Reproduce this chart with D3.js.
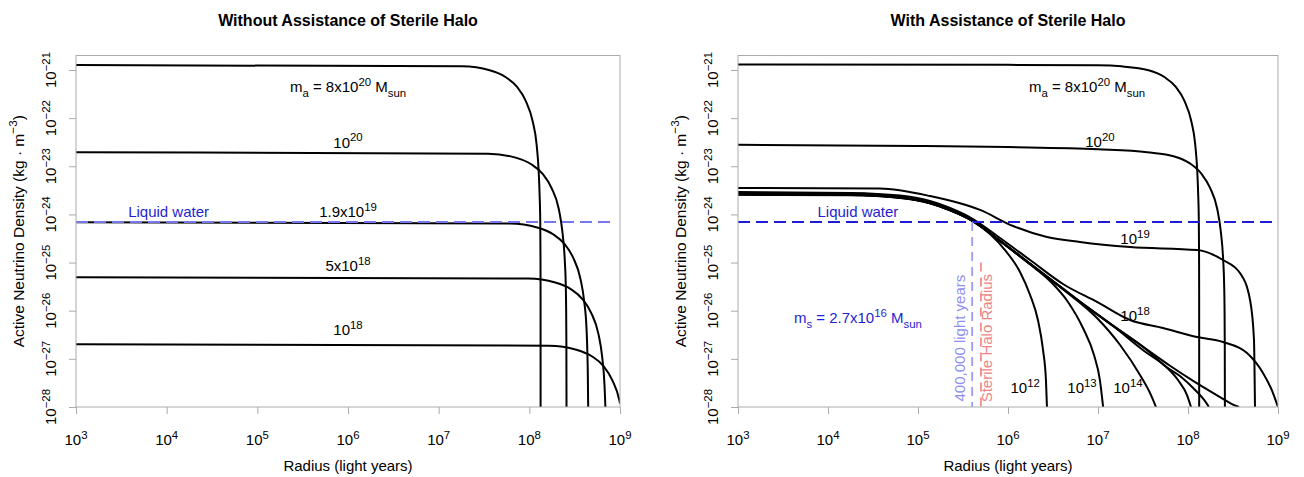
<!DOCTYPE html>
<html><head><meta charset="utf-8">
<script src="https://cdn.jsdelivr.net/npm/d3@7"></script>
<style>body{margin:0;background:#fff;} text{font-family:"Liberation Sans",Arial,Helvetica,sans-serif;fill:#000;}</style>
</head><body><svg id="c" width="1304" height="477"></svg>
<script>
// ---------- data ----------
const xTicks = [1e3, 1e4, 1e5, 1e6, 1e7, 1e8, 1e9];
const xTickExp = ["3", "4", "5", "6", "7", "8", "9"];
const yTicks = [1e-28, 1e-27, 1e-26, 1e-25, 1e-24, 1e-23, 1e-22, 1e-21];
const yTickExp = ["−28", "−27", "−26", "−25", "−24", "−23", "−22", "−21"];
const liquidWater = 7e-25;
const lightYears400k = 4e5;
const sterileHaloRadius = 5e5;
const sterileMarkerTop = 1e-25;

// Left panel: without sterile halo  [radius (ly), density (kg/m^3)]
const left8e20 = [[1e3,1.27e-21],[1.82e7,1.19e-21],[3.65e7,9.86e-22],[5.46e7,7.14e-22],[7.28e7,4.50e-22],[9.10e7,2.30e-22],[1.09e8,8.51e-23],[1.20e8,2.96e-23],[1.27e8,7.31e-24],[1.30e8,2.37e-24],[1.318e8,8.2e-25],[1.327e8,1.34e-25],[1.330e8,2.6e-26],[1.331e8,8.2e-28],[1.3312e8,1e-28]];
const left1e20 = [[1e3,1.95e-23],[3.52e7,1.83e-23],[7.05e7,1.51e-23],[1.05e8,1.10e-23],[1.41e8,6.90e-24],[1.76e8,3.53e-24],[2.11e8,1.31e-24],[2.31e8,4.54e-25],[2.46e8,1.12e-25],[2.52e8,3.64e-26],[2.545e8,1.26e-26],[2.562e8,2.05e-27],[2.569e8,1.41e-28],[2.5705e8,1e-28]];
const left19e18 = [[1e3,6.9e-25],[6.12e7,6.49e-25],[1.22e8,5.36e-25],[1.83e8,3.88e-25],[2.44e8,2.44e-25],[3.05e8,1.25e-25],[3.66e8,4.62e-26],[4.02e8,1.61e-26],[4.28e8,3.97e-27],[4.37e8,1.29e-27],[4.42e8,4.46e-28],[4.444e8,1.58e-28],[4.46e8,1e-28]];
const left5e18 = [[1e3,4.94e-26],[9.66e7,4.65e-26],[1.93e8,3.84e-26],[2.89e8,2.78e-26],[3.85e8,1.75e-26],[4.82e8,8.95e-27],[5.78e8,3.31e-27],[6.34e8,1.15e-27],[6.75e8,2.84e-28],[6.9e8,1e-28]];
const left1e18 = [[1e3,2.0e-27],[1.65e8,1.88e-27],[3.30e8,1.55e-27],[4.93e8,1.12e-27],[6.58e8,7.08e-28],[8.22e8,3.62e-28],[9.87e8,1.34e-28],[1.0e9,1.18e-28]];

// Right panel: with sterile halo
const right8e20 = [[1e3,1.30e-21],[1e6,1.28e-21],[1e7,1.25e-21],[1.82e7,1.19e-21],[3.65e7,9.86e-22],[5.46e7,7.14e-22],[7.28e7,4.50e-22],[9.10e7,2.30e-22],[1.09e8,8.51e-23],[1.20e8,2.96e-23],[1.27e8,7.31e-24],[1.30e8,2.37e-24],[1.318e8,8.2e-25],[1.327e8,1.34e-25],[1.330e8,2.6e-26],[1.331e8,8.2e-28],[1.3312e8,1e-28]];
const right1e20 = [[1e3,2.8e-23],[1e5,2.65e-23],[1e6,2.5e-23],[1e7,2.25e-23],[3.52e7,1.95e-23],[7.05e7,1.6e-23],[1.05e8,1.15e-23],[1.41e8,7.0e-24],[1.76e8,3.55e-24],[2.11e8,1.31e-24],[2.31e8,4.54e-25],[2.46e8,1.12e-25],[2.52e8,3.64e-26],[2.545e8,1.26e-26],[2.562e8,2.05e-27],[2.569e8,1.41e-28],[2.5705e8,1e-28]];
const right1e19 = [[1e3,3.54e-24],[3.78e4,3.45e-24],[1.36e5,2.41e-24],[4.89e5,1.24e-24],[1.14e6,5.74e-25],[2.71e6,3.40e-25],[6.31e6,2.67e-25],[2.27e7,2.10e-25],[1.26e8,1.82e-25],[2.45e8,1.13e-25],[3.78e8,6.07e-26],[4.89e8,1.67e-26],[5.41e8,2.46e-27],[5.5e8,4e-28],[5.55e8,1e-28]];
const right1e18 = [[1e3,2.92e-24],[1.756e4,2.79e-24],[6.31e4,2.47e-24],[1.36e5,1.90e-24],[2.27e5,1.36e-24],[4.08e5,8.03e-25],[8.15e5,3.24e-25],[1.76e6,1.13e-25],[4.08e6,3.59e-26],[9.75e6,1.52e-26],[2.27e7,6.41e-27],[5.27e7,4.37e-27],[1.26e8,2.84e-27],[2.45e8,2.24e-27],[4.53e8,1.32e-27],[6.81e8,5.08e-28],[8.80e8,1.95e-28],[1e9,1e-28]];
const right1e17 = [[1e3,2.80e-24],[1.756e4,2.72e-24],[6.31e4,2.30e-24],[1.36e5,1.75e-24],[2.27e5,1.25e-24],[4.08e5,7.35e-25],[8.15e5,2.85e-25],[1.76e6,9.5e-26],[4.08e6,2.88e-26],[6.31e6,1.55e-26],[1.47e7,4.9e-27],[3.50e7,1.56e-27],[6.31e7,7.2e-28],[1.14e8,3.5e-28],[2.27e8,1.61e-28],[3.08e8,1.15e-28],[3.69e8,1e-28]];
const right1e16 = [[1e3,2.74e-24],[1.756e4,2.66e-24],[6.31e4,2.28e-24],[1.36e5,1.74e-24],[2.27e5,1.24e-24],[4.08e5,7.32e-25],[8.15e5,2.83e-25],[1.76e6,9.4e-26],[4.08e6,2.84e-26],[6.31e6,1.53e-26],[1.47e7,4.84e-27],[3.50e7,1.53e-27],[5.55e7,7.10e-28],[8.15e7,4.40e-28],[1.20e8,2.25e-28],[1.51e8,1.40e-28],[1.71e8,1e-28]];
const right1e15 = [[1e3,2.68e-24],[1.756e4,2.60e-24],[6.31e4,2.26e-24],[1.36e5,1.73e-24],[2.27e5,1.24e-24],[4.08e5,7.30e-25],[8.15e5,2.81e-25],[1.76e6,9.33e-26],[4.08e6,2.82e-26],[6.31e6,1.52e-26],[1.47e7,4.81e-27],[3.50e7,1.32e-27],[5.27e7,7.82e-28],[7.74e7,3.63e-28],[9.75e7,1.77e-28],[1.08e8,1e-28]];
const right1e14 = [[1e3,2.63e-24],[1.756e4,2.57e-24],[6.31e4,2.24e-24],[1.36e5,1.72e-24],[2.27e5,1.23e-24],[4.08e5,7.28e-25],[8.15e5,2.80e-25],[1.76e6,9.3e-26],[4.08e6,2.80e-26],[9.75e6,7.05e-27],[1.76e7,1.94e-27],[2.93e7,4.62e-28],[3.88e7,1.77e-28],[4.41e7,1e-28]];
const right1e13 = [[1e3,2.59e-24],[1.756e4,2.54e-24],[6.31e4,2.22e-24],[1.36e5,1.71e-24],[2.27e5,1.22e-24],[4.08e5,7.25e-25],[8.15e5,2.79e-25],[1.76e6,9.2e-26],[2.93e6,4.14e-26],[4.64e6,1.52e-26],[6.81e6,4.37e-27],[9.03e6,1.20e-27],[1.05e7,3.63e-28],[1.14e7,1e-28]];
const right1e12 = [[1e3,2.55e-24],[1.756e4,2.50e-24],[6.31e4,2.20e-24],[1.36e5,1.70e-24],[2.27e5,1.21e-24],[4.08e5,7.2e-25],[6.31e5,3.92e-25],[9.27e5,1.82e-25],[1.36e6,6.37e-26],[1.76e6,2.12e-26],[2.15e6,6.41e-27],[2.45e6,1.53e-27],[2.64e6,3.63e-28],[2.71e6,1e-28]];

// ---------- layout ----------
const yTop = 55.5, yBot = 407;
const FS = 15;
const panels = [
  {x0: 76, x1: 620, title: "Without Assistance of Sterile Halo",
   curves: [left8e20, left1e20, left19e18, left5e18, left1e18], lwColor: "#7676ee", sterile: false},
  {x0: 738, x1: 1278, title: "With Assistance of Sterile Halo",
   curves: [right8e20, right1e20, right1e19, right1e18, right1e17, right1e16, right1e15, right1e14, right1e13, right1e12], lwColor: "#1c1cd6", sterile: true}
];

const svg = d3.select("#c");

function rich(g, x, y, parts, size, opts = {}) {
  const t = g.append("text").attr("x", x).attr("y", y).attr("font-size", size)
    .attr("text-anchor", opts.anchor || "middle");
  if (opts.fill) t.style("fill", opts.fill);
  if (opts.rotate) t.attr("transform", `rotate(-90,${x},${y})`);
  if (opts.weight) t.attr("font-weight", opts.weight);
  let cur = 0;
  parts.forEach(([s, k]) => {
    const target = k === "sup" ? -0.42 * size : k === "sub" ? 0.3 * size : 0;
    t.append("tspan").attr("dy", target - cur).attr("font-size", k ? size * 0.76 : size).text(s);
    cur = target;
  });
  return t;
}

panels.forEach((p, i) => {
  const x = d3.scaleLog().domain([1e3, 1e9]).range([p.x0, p.x1]);
  const y = d3.scaleLog().domain([1e-28, 2e-21]).range([yBot, yTop]);
  const g = svg.append("g");
  const cid = "clip" + i;
  svg.append("defs").append("clipPath").attr("id", cid)
    .append("rect").attr("x", p.x0).attr("y", yTop).attr("width", p.x1 - p.x0).attr("height", yBot - yTop);
  const plot = g.append("g").attr("clip-path", `url(#${cid})`);

  const line = d3.line().x(d => x(d[0])).y(d => y(d[1])).curve(d3.curveMonotoneX);
  plot.selectAll("path.curve").data(p.curves).join("path").attr("class", "curve")
    .attr("d", line).attr("fill", "none").attr("stroke", "#000").attr("stroke-width", 2)
    .attr("stroke-linejoin", "round");

  // liquid water line
  plot.append("line").attr("x1", p.x0).attr("x2", p.x1 - 4).attr("y1", y(liquidWater)).attr("y2", y(liquidWater))
    .attr("stroke", p.lwColor).attr("stroke-width", 2).attr("stroke-dasharray", "12,6");

  if (p.sterile) {
    plot.append("line").attr("x1", x(lightYears400k)).attr("x2", x(lightYears400k))
      .attr("y1", y(liquidWater)).attr("y2", yBot)
      .attr("stroke", "#9a9af6").attr("stroke-width", 1.8).attr("stroke-dasharray", "9,6");
    plot.append("line").attr("x1", x(sterileHaloRadius)).attr("x2", x(sterileHaloRadius))
      .attr("y1", y(sterileMarkerTop)).attr("y2", yBot)
      .attr("stroke", "#f09090").attr("stroke-width", 1.8).attr("stroke-dasharray", "9,6");
  }

  // frame
  g.append("rect").attr("x", p.x0).attr("y", yTop).attr("width", p.x1 - p.x0).attr("height", yBot - yTop)
    .attr("fill", "none").attr("stroke", "#ababab").attr("stroke-width", 1);

  // axes
  const ax = g.append("g").attr("transform", `translate(0,${yBot})`)
    .call(d3.axisBottom(x).tickValues(xTicks).tickFormat("").tickSize(7).tickSizeOuter(0));
  const ay = g.append("g").attr("transform", `translate(${p.x0},0)`)
    .call(d3.axisLeft(y).tickValues(yTicks).tickFormat("").tickSize(7).tickSizeOuter(0));
  [ax, ay].forEach(a => { a.select(".domain").remove(); a.selectAll("line").attr("stroke", "#ababab"); });

  xTicks.forEach((v, k) => rich(g, x(v), 445, [["10"], [xTickExp[k], "sup"]], FS));
  yTicks.forEach((v, k) => rich(g, p.x0 - 20, y(v), [["10"], [yTickExp[k], "sup"]], FS, {rotate: true}));

  const cx = (p.x0 + p.x1) / 2;
  g.append("text").attr("x", cx).attr("y", 26).attr("text-anchor", "middle")
    .attr("font-size", 16).attr("font-weight", "bold").text(p.title);
  g.append("text").attr("x", cx).attr("y", 471).attr("text-anchor", "middle")
    .attr("font-size", FS).text("Radius (light years)");
  rich(g, p.x0 - 52, (yTop + yBot) / 2, [["Active Neutrino Density (kg · m"], ["−3", "sup"], [")"]], 15.5, {rotate: true});

  p.x = x; p.y = y; p.g = g;
});

// ---------- annotations ----------
const L = panels[0], R = panels[1];
const blue = "#1f1fd0";
rich(L.g, L.x(1e6), L.y(3.49e-22), [["m"], ["a", "sub"], [" = 8x10"], ["20", "sup"], [" M"], ["sun", "sub"]], FS);
rich(L.g, L.x(1e6), L.y(2.45e-23), [["10"], ["20", "sup"]], FS);
rich(L.g, L.x(1e6), L.y(8.8e-25), [["1.9x10"], ["19", "sup"]], FS);
rich(L.g, L.x(1e6), L.y(6.7e-26), [["5x10"], ["18", "sup"]], FS);
rich(L.g, L.x(1e6), L.y(3.1e-27), [["10"], ["18", "sup"]], FS);
rich(L.g, L.x(1.05e4), L.y(8.8e-25), [["Liquid water"]], FS, {fill: blue});

rich(R.g, R.x(7.55e6), R.y(3.49e-22), [["m"], ["a", "sub"], [" = 8x10"], ["20", "sup"], [" M"], ["sun", "sub"]], FS);
rich(R.g, R.x(1.05e7), R.y(2.5e-23), [["10"], ["20", "sup"]], FS);
rich(R.g, R.x(2.58e7), R.y(2.43e-25), [["10"], ["19", "sup"]], FS);
rich(R.g, R.x(2.58e7), R.y(6.1e-27), [["10"], ["18", "sup"]], FS);
rich(R.g, R.x(1.55e6), R.y(1.95e-28), [["10"], ["12", "sup"]], FS);
rich(R.g, R.x(6.64e6), R.y(1.95e-28), [["10"], ["13", "sup"]], FS);
rich(R.g, R.x(2.15e7), R.y(1.95e-28), [["10"], ["14", "sup"]], FS);
rich(R.g, R.x(2.15e4), R.y(8.8e-25), [["Liquid water"]], FS, {fill: blue});
rich(R.g, R.x(2.15e4), R.y(5.55e-27), [["m"], ["s", "sub"], [" = 2.7x10"], ["16", "sup"], [" M"], ["sun", "sub"]], FS, {fill: blue});
rich(R.g, R.x(3.33e5), R.y(2.7e-27), [["400,000 light years"]], FS, {rotate: true, fill: "#8f8ff2"});
rich(R.g, R.x(6.64e5), R.y(2.7e-27), [["Sterile Halo Radius"]], FS, {rotate: true, fill: "#ee8484"});
</script></body></html>
